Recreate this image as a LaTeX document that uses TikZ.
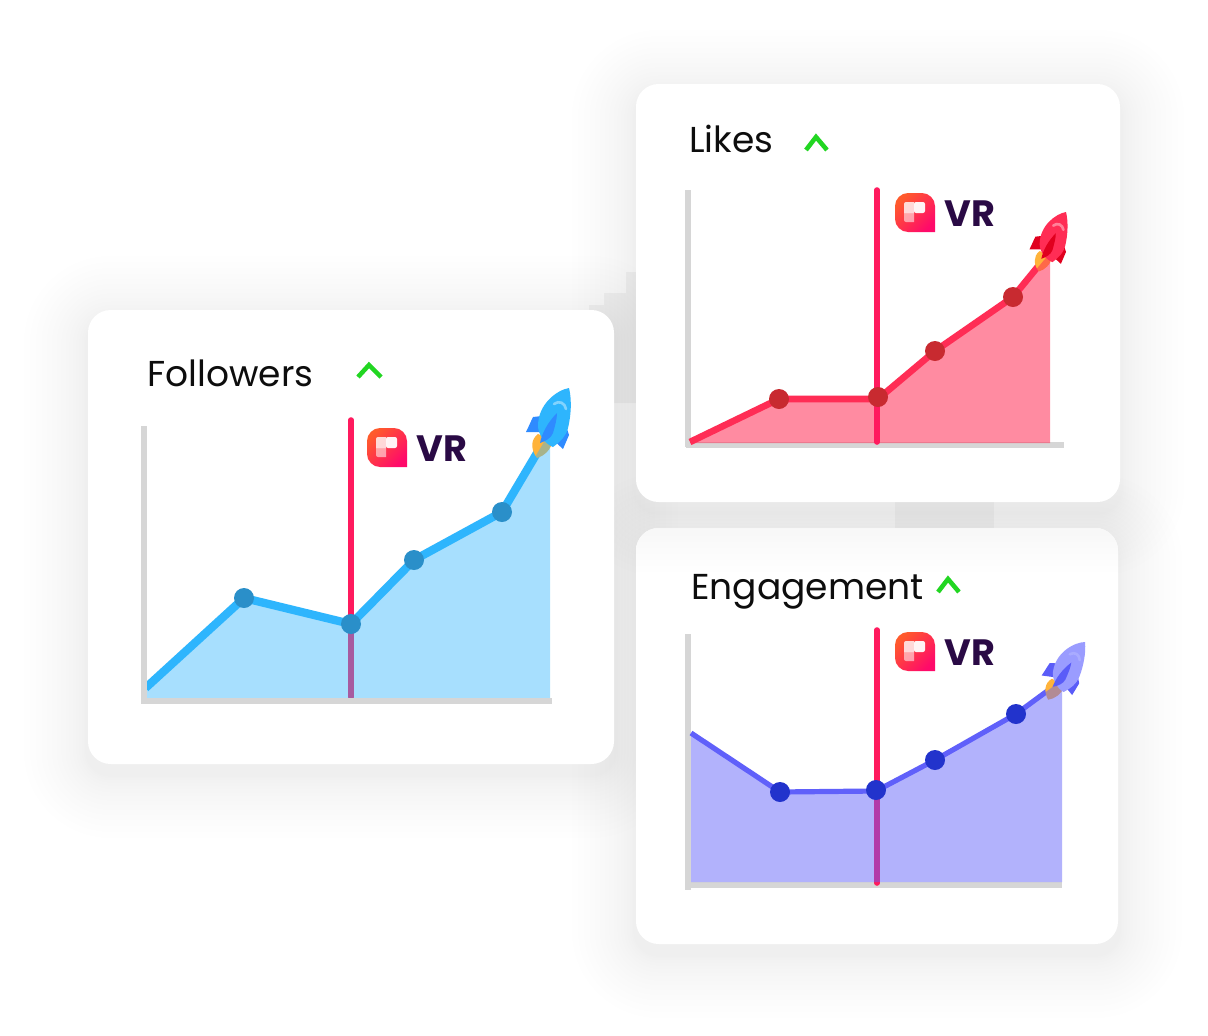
\documentclass[tikz,border=0pt]{standalone}
\usepackage{fontspec}
\setmainfont{Poppins}
\newfontfamily\vrfont{Poppins Bold}
\definecolor{axisgray}{HTML}{D6D6D6}
\definecolor{pinkline}{HTML}{FF1A5E}
\definecolor{logoor}{HTML}{FF5A2C}
\definecolor{logopk}{HTML}{FF0A6A}
\definecolor{upgreen}{HTML}{22D622}
\definecolor{vrink}{HTML}{2A0A45}
\definecolor{flameor}{HTML}{FFB33A}
\definecolor{fbluel}{HTML}{2EB5FD}\definecolor{fblued}{HTML}{2A8FC9}\definecolor{fbluer}{HTML}{2F8BFF}
\definecolor{lredl}{HTML}{FF2D55}\definecolor{lredd}{HTML}{C82A30}\definecolor{lredr}{HTML}{E0001E}
\definecolor{evioll}{HTML}{6060FA}\definecolor{eviold}{HTML}{2233CC}\definecolor{evior}{HTML}{5A5CF8}\definecolor{eviob}{HTML}{9A9CFF}
\tikzset{
  card/.style={fill=white,rounded corners=17pt},
  axisline/.style={draw=axisgray,line width=4.4pt},
  marker/.style={draw=pinkline,line width=4.2pt,line cap=round},
  up/.style={draw=upgreen,line width=3.4pt},
  title/.style={anchor=base west,inner sep=0pt,font=\fontsize{27}{30}\selectfont,text=black!95},
  vrtext/.style={anchor=base west,inner sep=0pt,font=\vrfont\fontsize{27.5}{30}\selectfont,text=vrink},
  dot/.style={radius=7.5pt}
}
\newcommand{\softshadow}[4]{%
  \foreach \k in {1,...,16}{
    \pgfmathsetmacro{\dd}{2+62*pow(\k/16,1.6)}
    \fill[black,opacity=0.0047,rounded corners={(17+\dd*.75)*1pt}]
      ({#1-\dd},{#2-\dd}) rectangle ({#3+\dd},{#4+\dd});
  }}
\newcommand{\vrlogo}[3]{%
  \begin{scope}[shift={(#1,#2)}]
    \shade[top color=logoor,bottom color=logopk,shading angle=45]
      (0,13) .. controls (0,6) and (6,0) .. (13,0) -- (27,0) .. controls (34,0) and (40,6) .. (40,13)
      -- (40,39) -- (13,39) .. controls (6,39) and (0,33) .. (0,26) -- cycle;
    \fill[white,opacity=.95,rounded corners=1.5pt] (19,9) -- (30,9) -- (30,20) -- (19,20) -- cycle;
    \fill[white,opacity=.8] (9,11) .. controls (9,10) and (10,9) .. (11,9) -- (19,9) -- (19,20) -- (9,20) -- cycle;
    \fill[white,opacity=.55] (9,20) -- (19,20) -- (19,29) -- (11,29) .. controls (10,29) and (9,28) .. (9,27) -- cycle;
    \node[vrtext] (#3) at (49,33) {VR};
  \end{scope}}
\newcommand{\rocketflame}[3]{%
  \begin{scope}[shift={(#1,#2)},#3]
    \fill[flameor] (-32,70) .. controls (-38,62) and (-39,52) .. (-31,46) -- (-16,52) .. controls (-18,62) and (-25,68) .. (-32,70) -- cycle;
  \end{scope}}
\newcommand{\rocketbody}[6]{%
  \begin{scope}[shift={(#1,#2)},#3]
    \fill[#5] (-43,44) .. controls (-40,38) and (-38,33) .. (-36,29) -- (-27,28) -- (-20,35) -- (-29,44) -- cycle;
    \fill[#5] (-2,41) -- (0,47) -- (-6,61) -- (-18,50) -- cycle;
    \fill[#4] (0,0) .. controls (-12,2) and (-31,16) .. (-31,38) .. controls (-31,46) and (-24,56) .. (-16,59)
      .. controls (-8,53) and (-3,48) .. (-1,40) .. controls (2,28) and (3,12) .. (0,0) -- cycle;
    \fill[#5] (-12,25) .. controls (-21,34) and (-27,45) .. (-29,55) .. controls (-23,53) and (-18,50) .. (-16,45) .. controls (-14,38) and (-12,31) .. (-12,25) -- cycle;
    \draw[#6,line width=2pt,line cap=round] (-15,16) .. controls (-10,12) and (-4,15) .. (-3,21);
  \end{scope}}
\begin{document}
\begin{tikzpicture}[x=0.75pt,y=-0.75pt]
\useasboundingbox (0,0) rectangle (1208,1036);
\fill[white] (0,0) rectangle (1208,1036);
% shadows
\softshadow{636}{94}{1120}{512}
\softshadow{636}{538}{1118}{954}
\softshadow{88}{320}{614}{774}
% blocky shadow remnants
\fill[black,opacity=.04] (626,272) -- (636,272) -- (636,403) -- (589,403) -- (589,305) -- (604,305) -- (604,293) -- (626,293) -- cycle;
\fill[black,opacity=.03] (895,502) rectangle (994,528);
% cards
\fill[card] (636,84) rectangle (1120,502);
\fill[card] (636,528) rectangle (1118,944);
\begin{scope}
  \clip[rounded corners=17pt] (636,528) rectangle (1118,944);
  \shade[top color=black!3,bottom color=white] (636,528) rectangle (1118,575);
\end{scope}
\fill[card] (88,310) rectangle (614,764);

% ---------- Followers
\node[title] (tf) at (147,386) {Followers};
\draw[up] (358,377) -- (369,365) -- (381,377);
\draw[marker] (351,420) -- (351,697);
\draw[fbluel,line width=6.2pt,line join=round] (145.5,688) -- (244,598) -- (351,624) -- (414,560) -- (502,512) -- (540,448);
\rocketflame{569}{388}{}
\fill[fbluel,opacity=.42] (146,688) -- (244,598) -- (351,624) -- (414,560) -- (502,512) -- (550,432) -- (550,698) -- (146,698) -- cycle;
\draw[axisline] (144,426) -- (144,704);
\draw[axisline] (141,701) -- (552,701);
\foreach \p in {(244,598),(351,624),(414,560),(502,512)} \fill[fblued] \p circle[dot];
\rocketbody{569}{388}{}{fbluel}{fbluer}{white!40!fbluel}
\vrlogo{367}{428}{vf}

% ---------- Likes
\node[title] (tl) at (689,152) {Likes};
\draw[up] (806,150) -- (816,137) -- (827,150);
\draw[axisline] (688,190) -- (688,447);
\draw[axisline] (686,445) -- (1064,445);
\draw[lredl,line width=5pt,line join=round] (690,442) -- (779,399) -- (878,399) -- (935,351) -- (1013,297) -- (1040,264);
\rocketflame{1066}{212}{scale=.85}
\fill[lredl,opacity=.55] (690,442) -- (779,399) -- (878,399) -- (935,351) -- (1013,297) -- (1050,253) -- (1050,443) -- (690,443) -- cycle;
\draw[marker] (877,190) -- (877,442);
\foreach \p in {(779,399),(878,397),(935,351),(1013,297)} \fill[lredd] \p circle[dot];
\rocketbody{1066}{212}{scale=.85}{lredl}{lredr}{white!40!lredl}
\vrlogo{895}{193}{vl}

% ---------- Engagement
\node[title] (te) at (691,599) {Engagement};
\draw[up] (938,592) -- (948,579) -- (959,592);
\draw[axisline] (688,634) -- (688,890);
\draw[axisline] (686,885) -- (1062,885);
\draw[marker] (877,630) -- (877,883);
\draw[evioll,line width=3.9pt,line join=round] (691,733) -- (780,792) -- (876,791) -- (935,760) -- (1016,714) -- (1050,689);
\rocketflame{1085}{642}{rotate=-8,scale=.89}
\fill[evioll,opacity=.48] (691,733) -- (780,792) -- (876,791) -- (935,760) -- (1016,714) -- (1062,680) -- (1062,882) -- (691,882) -- cycle;
\foreach \p in {(780,792),(876,790),(935,760),(1016,714)} \fill[eviold] \p circle[dot];
\rocketbody{1085}{642}{rotate=-8,scale=.89}{eviob}{evior}{white!15!eviob}
\vrlogo{895}{632}{ve}
\end{tikzpicture}
\end{document}
